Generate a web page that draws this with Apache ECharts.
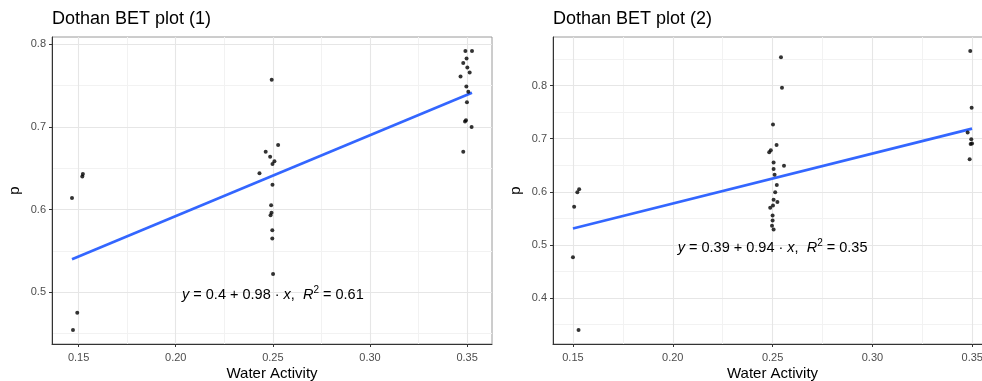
<!DOCTYPE html>
<html>
<head>
<meta charset="utf-8">
<script src="https://cdn.jsdelivr.net/npm/echarts@6/dist/echarts.min.js"></script>
<style>
  html, body { margin: 0; padding: 0; background: #ffffff; }
  #chart { width: 982px; height: 381px; }
</style>
</head>
<body>
<div id="chart"></div>
<script>
// Dothan BET plot (1): water activity vs p
const wa1 = [0.1466, 0.1471, 0.1493, 0.1519, 0.1522,
  0.2494, 0.2527, 0.2463, 0.2486, 0.2508, 0.2498, 0.2431, 0.2498, 0.2491, 0.2493, 0.2488, 0.2497, 0.2497, 0.2501,
  0.3491, 0.3525, 0.3497, 0.3480, 0.3501, 0.3513, 0.3466, 0.3496, 0.3506, 0.3499, 0.3494, 0.3489, 0.3523, 0.3480];
const p1 = [0.614, 0.454, 0.475, 0.640, 0.643,
  0.757, 0.678, 0.670, 0.664, 0.6585, 0.655, 0.644, 0.630, 0.605, 0.596, 0.593, 0.575, 0.565, 0.522,
  0.792, 0.792, 0.783, 0.7775, 0.772, 0.766, 0.761, 0.749, 0.7425, 0.730, 0.708, 0.7065, 0.700, 0.670];

// Dothan BET plot (2): water activity vs p
const wa2 = [0.1531, 0.1522, 0.1506, 0.1500, 0.1528,
  0.2542, 0.2547, 0.2502, 0.2520, 0.2491, 0.2483, 0.2505, 0.2505, 0.2557, 0.2510, 0.2521, 0.2513, 0.2505, 0.2524,
  0.2502, 0.2488, 0.2500, 0.2500, 0.2497, 0.2505,
  0.3490, 0.3497, 0.3477, 0.3495, 0.3492, 0.3499, 0.3487];
const p2 = [0.605, 0.599, 0.572, 0.477, 0.340,
  0.853, 0.796, 0.7265, 0.688, 0.678, 0.6745, 0.655, 0.643, 0.649, 0.632, 0.6128, 0.599, 0.585, 0.581,
  0.5745, 0.570, 0.5557, 0.546, 0.5364, 0.529,
  0.865, 0.758, 0.7115, 0.699, 0.690, 0.691, 0.6615];

// Linear fits: [intercept, slope] and R squared
const fit1 = [0.396, 0.98];
const r2_1 = 0.61;
const fit2 = [0.39, 0.94];
const r2_2 = 0.35;

// Axis breaks
const xTicks = [0.15, 0.20, 0.25, 0.30, 0.35];
const xMinor = [0.125, 0.175, 0.225, 0.275, 0.325, 0.375];
const yTicks1 = [0.5, 0.6, 0.7, 0.8];
const yMinor1 = [0.45, 0.55, 0.65, 0.75];
const yTicks2 = [0.4, 0.5, 0.6, 0.7, 0.8];
const yMinor2 = [0.35, 0.45, 0.55, 0.65, 0.75, 0.85];

const titles = ['Dothan BET plot (1)', 'Dothan BET plot (2)'];
const xTitle = 'Water Activity';
const yTitle = 'p';
const eqAnchor = [0.25, 0.5];

const FONT = '"Liberation Sans", Arial, Helvetica, sans-serif';

// ggplot-style 5% range expansion
function expand(vals) {
  const lo = Math.min(...vals), hi = Math.max(...vals);
  const pad = (hi - lo) * 0.05;
  return [lo - pad, hi + pad];
}
function sig2(v) { return String(Number(v.toPrecision(2))); }

function fitLine(xs, fit) {
  const lo = Math.min(...xs), hi = Math.max(...xs);
  return [[lo, fit[0] + fit[1] * lo], [hi, fit[0] + fit[1] * hi]];
}

function eqLabel(fit, r2) {
  return '{i|y} = ' + sig2(fit[0]) + ' + ' + sig2(fit[1]) + ' \u00b7 {i|x},  {i|R}{s|2} = ' + r2.toFixed(2);
}

const grids = [
  { left: 52, top: 37, width: 440, height: 307 },
  { left: 553, top: 37, width: 439, height: 307 }
];

function majorAxis(gridIndex, range, ticks, digits, isX) {
  return {
    type: 'value', gridIndex: gridIndex,
    min: range[0], max: range[1],
    name: isX ? xTitle : yTitle,
    nameLocation: 'middle',
    nameGap: isX ? 22 : 30,
    nameMoveOverlap: false,
    nameTextStyle: { fontFamily: FONT, fontSize: 15, color: '#000000' },
    axisLine: { show: true, onZero: false, lineStyle: { color: '#333333', width: 1 } },
    axisTick: { show: true, length: 3, customValues: ticks, lineStyle: { color: '#333333', width: 1 } },
    axisLabel: {
      show: true, customValues: ticks, margin: isX ? 8 : 6,
      fontFamily: FONT, fontSize: 11, color: '#4d4d4d',
      formatter: function (v) { return Number(v).toFixed(digits); }
    },
    splitLine: { show: true, lineStyle: { color: '#e6e6e6', width: 1.1 } },
    z: 3
  };
}
function minorAxis(gridIndex, range, minor) {
  return {
    type: 'value', gridIndex: gridIndex,
    min: range[0], max: range[1],
    axisLine: { show: false },
    axisTick: { show: false, customValues: minor },
    axisLabel: { show: false, customValues: minor },
    splitLine: { show: true, lineStyle: { color: '#f2f2f2', width: 1 } },
    z: 1
  };
}

const xr1 = expand(wa1), yr1 = expand(p1);
const xr2 = expand(wa2), yr2 = expand(p2);

const richStyle = {
  fontFamily: FONT, fontSize: 14.5, color: '#000000',
  rich: {
    i: { fontFamily: FONT, fontSize: 14.5, fontStyle: 'italic', color: '#000000' },
    s: { fontFamily: FONT, fontSize: 10, color: '#000000', padding: [0, 0, 9, 0] }
  }
};

function scatterSeries(xi, xs, ys, fit, r2) {
  return {
    type: 'scatter', xAxisIndex: xi, yAxisIndex: xi,
    data: xs.map((x, k) => [x, ys[k]]),
    symbol: 'circle', symbolSize: 4,
    itemStyle: { color: '#000000' },
    z: 5,
    silent: true,
    markPoint: {
      symbol: 'circle', symbolSize: 0,
      silent: true,
      label: Object.assign({ show: true, position: 'inside', offset: [0, 3], formatter: eqLabel(fit, r2) }, richStyle),
      data: [{ coord: eqAnchor }]
    }
  };
}
function lineSeries(xi, xs, fit) {
  return {
    type: 'line', xAxisIndex: xi, yAxisIndex: xi,
    data: fitLine(xs, fit),
    symbol: 'none',
    lineStyle: { color: '#3366ff', width: 2.6 },
    z: 4,
    silent: true
  };
}

const titleStyle = { fontFamily: FONT, fontSize: 18, fontWeight: 'normal', color: '#000000' };

const chart = echarts.init(document.getElementById('chart'), null, { renderer: 'canvas' });
chart.setOption({
  animation: false,
  backgroundColor: '#ffffff',
  title: [
    { text: titles[0], left: 52, top: 10, padding: 0, textStyle: titleStyle },
    { text: titles[1], left: 553, top: 10, padding: 0, textStyle: titleStyle }
  ],
  grid: grids.map(g => Object.assign({
    show: true, borderColor: '#9a9a9a', borderWidth: 1, backgroundColor: '#ffffff',
    containLabel: false, outerBoundsMode: 'none'
  }, g)),
  xAxis: [
    majorAxis(0, xr1, xTicks, 2, true), minorAxis(0, xr1, xMinor),
    majorAxis(1, xr2, xTicks, 2, true), minorAxis(1, xr2, xMinor)
  ],
  yAxis: [
    majorAxis(0, yr1, yTicks1, 1, false), minorAxis(0, yr1, yMinor1),
    majorAxis(1, yr2, yTicks2, 1, false), minorAxis(1, yr2, yMinor2)
  ],
  series: [
    lineSeries(0, wa1, fit1),
    scatterSeries(0, wa1, p1, fit1, r2_1),
    lineSeries(2, wa2, fit2),
    scatterSeries(2, wa2, p2, fit2, r2_2)
  ]
});
</script>
</body>
</html>
